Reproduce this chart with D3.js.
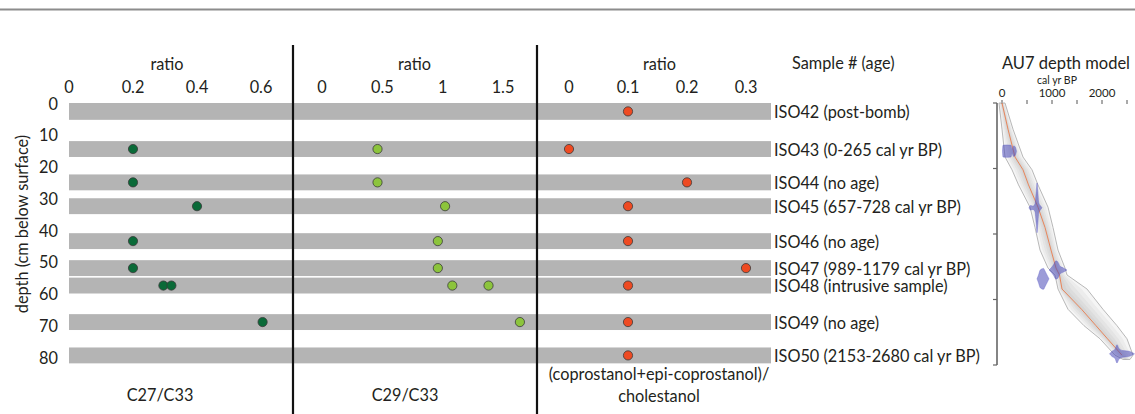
<!DOCTYPE html>
<html><head><meta charset="utf-8">
<script src="https://cdn.jsdelivr.net/npm/d3@7"></script>
<style>
body{margin:0;background:#fff;}
svg{display:block;font-family:"Lato","Open Sans",sans-serif;}
</style></head>
<body><svg id="c" width="1135" height="414"></svg>
<script>
// ---------- DATA ----------
const sampleNames = ["ISO42 (post-bomb)","ISO43 (0-265 cal yr BP)","ISO44 (no age)","ISO45 (657-728 cal yr BP)","ISO46 (no age)","ISO47 (989-1179 cal yr BP)","ISO48 (intrusive sample)","ISO49 (no age)","ISO50 (2153-2680 cal yr BP)"];
const sampleTop = [0, 12, 22.5, 30, 41, 49.5, 55, 66.5, 77];
const sampleBottom = [5.3, 17, 27.5, 35, 46, 54.5, 60, 71.5, 82];
// ratios per sample (empty = no value); ISO48 has two values
const c27c33 = [[], [0.2], [0.2], [0.4], [0.2], [0.2], [0.295, 0.32], [0.605], []];
const c29c33 = [[], [0.46], [0.46], [1.02], [0.96], [0.96], [1.08, 1.38], [1.64], []];
const coproRatio = [[0.1], [0.0], [0.2], [0.1], [0.1], [0.3], [0.1], [0.1], [0.1]];
const ticks1 = [0, 0.2, 0.4, 0.6];
const ticks2 = [0, 0.5, 1, 1.5];
const ticks3 = [0, 0.1, 0.2, 0.3];
const depthTicks = [0, 10, 20, 30, 40, 50, 60, 70, 80];
// Age-depth model (AU7)
const modelDepth  = [0, 8, 16.5, 20.4, 25, 31.8, 38, 44.9, 50.4, 52.5, 56.8, 63, 68, 72, 77, 78.3];
const modelMedian = [0, 120, 260, 420, 530, 720, 860, 980, 1080, 1150, 1200, 1592, 1880, 2110, 2400, 2470];
const modelMin    = [-60, 0, 60, 200, 330, 560, 660, 760, 920, 1060, 1120, 1320, 1640, 1960, 2260, 2420];
const modelMax    = [60, 220, 420, 600, 720, 920, 1020, 1120, 1260, 1300, 1700, 2020, 2300, 2500, 2620, 2560];
const ageTicks = [0, 500, 1000, 1500, 2000, 2500];
const ageLabels = [0, 1000, 2000];
const modelDepthTicks = [0, 20, 40, 60, 80];
// calibrated date distributions: depth and [age, half-height (cm)] profiles
const dateDepth = [14.7, 32, 51, 53.7, 76.6];
const dateProfiles = [
  [[10,0],[20,1.8],[100,1.9],[180,1.8],[200,0.6],[230,1.6],[260,1.4],[290,0]],
  [[540,0],[570,0.7],[620,0.5],[660,1.2],[685,5],[700,7.6],[715,5.5],[735,1.5],[770,0.6],[800,0]],
  [[940,0],[980,0.6],[1030,1.6],[1080,2.8],[1120,2.4],[1160,1.2],[1220,0.7],[1300,0]],
  [[700,0],[730,1.2],[760,2.6],[790,3.0],[830,3.2],[860,2.4],[900,1.2],[940,0]],
  [[2150,0],[2200,0.8],[2260,1.4],[2300,2.8],[2340,1.6],[2420,1.0],[2500,0.9],[2580,0.6],[2650,0]]
];

// ---------- DRAW ----------
const svg = d3.select("#c");
const y = d3.scaleLinear().domain([0, 80]).range([103, 357]);
const x1 = d3.scaleLinear().domain([0, 0.6]).range([69, 261]);
const x2 = d3.scaleLinear().domain([0, 1.5]).range([322, 503]);
const x3 = d3.scaleLinear().domain([0, 0.3]).range([569, 746]);
const bandLeft = 69, bandRight = 771;
const FS = 16.3;
const TXT = "#231f20";

// top rule
svg.append("line").attr("x1",0).attr("x2",1135).attr("y1",9.5).attr("y2",9.5)
  .attr("stroke","#8c8c8c").attr("stroke-width",2);

// bands
svg.append("g").selectAll("rect").data(sampleNames).join("rect")
  .attr("x", bandLeft).attr("width", bandRight - bandLeft)
  .attr("y", (d,i)=>y(sampleTop[i])).attr("height",(d,i)=>y(sampleBottom[i])-y(sampleTop[i]))
  .attr("fill","#b4b4b4");

// separators
[293, 537].forEach(px => svg.append("line").attr("x1",px).attr("x2",px).attr("y1",45).attr("y2",414)
  .attr("stroke","#111").attr("stroke-width",2.2));

// depth axis labels
svg.append("g").selectAll("text").data(depthTicks).join("text")
  .attr("x",58).attr("y",d=>y(d)).attr("text-anchor","end").attr("dominant-baseline","central")
  .attr("font-size",FS).attr("fill",TXT).text(d=>d);
svg.append("text").attr("transform","translate(21,224) rotate(-90)").attr("text-anchor","middle")
  .attr("dominant-baseline","central").attr("font-size",FS).attr("fill",TXT).text("depth (cm below surface)");

function panel(x, ticks, fmt, vals, color, bottomLines, bottomX) {
  const g = svg.append("g");
  g.selectAll("text.t").data(ticks).join("text").attr("class","t")
    .attr("x",d=>x(d)).attr("y",86).attr("text-anchor","middle").attr("dominant-baseline","central")
    .attr("font-size",FS).attr("fill",TXT).text(fmt);
  g.append("text").attr("x",(x.range()[0]+x.range()[1])/2 + 2).attr("y",63).attr("text-anchor","middle")
    .attr("dominant-baseline","central").attr("font-size",FS).attr("fill",TXT).text("ratio");
  const pts = [];
  vals.forEach((arr,i)=>arr.forEach(v=>pts.push({v, d:(sampleTop[i]+sampleBottom[i])/2})));
  g.selectAll("circle").data(pts).join("circle")
    .attr("cx",d=>x(d.v)).attr("cy",d=>y(d.d)).attr("r",4.6)
    .attr("fill",color).attr("stroke","#3a3a3a").attr("stroke-width",0.8);
  bottomLines.forEach((t,k)=>g.append("text").attr("x",bottomX).attr("y",bottomLines.length>1?373+k*22:394)
    .attr("text-anchor","middle").attr("dominant-baseline","central").attr("font-size",FS).attr("fill",TXT).text(t));
}
panel(x1, ticks1, d=>d===0?"0":d3.format(".1f")(d), c27c33, "#0a6a38", ["C27/C33"], 160);
panel(x2, ticks2, d=>String(d), c29c33, "#8cc43c", ["C29/C33"], 405);
panel(x3, ticks3, d=>d===0?"0":d3.format(".1f")(d), coproRatio, "#ee4a22", ["(coprostanol+epi-coprostanol)/","cholestanol"], 659);

// sample labels
svg.append("text").attr("x",792).attr("y",62).attr("dominant-baseline","central").attr("font-size",FS)
  .attr("fill",TXT).text("Sample # (age)");
svg.append("g").selectAll("text").data(sampleNames).join("text")
  .attr("x",774).attr("y",(d,i)=>y((sampleTop[i]+sampleBottom[i])/2)).attr("dominant-baseline","central")
  .attr("font-size",FS).attr("fill",TXT).text(d=>d);

// ---------- AGE MODEL ----------
const ax = d3.scaleLinear().domain([0,2500]).range([1002,1127]);
const ay = d3.scaleLinear().domain([0,80]).range([103,365]);
svg.append("text").attr("x",1066).attr("y",63).attr("text-anchor","middle").attr("dominant-baseline","central")
  .attr("font-size",16.5).attr("fill",TXT).text("AU7 depth model");
svg.append("text").attr("x",1057).attr("y",80).attr("text-anchor","middle").attr("dominant-baseline","central")
  .attr("font-size",10.5).attr("fill",TXT).text("cal yr BP");
svg.append("g").selectAll("text").data(ageLabels).join("text")
  .attr("x",d=>ax(d)).attr("y",92).attr("text-anchor","middle").attr("dominant-baseline","central")
  .attr("font-size",11.5).attr("fill",TXT).text(d=>d);
svg.append("g").selectAll("line").data(ageTicks).join("line")
  .attr("x1",d=>ax(d)).attr("x2",d=>ax(d)).attr("y1",100).attr("y2",104).attr("stroke","#555").attr("stroke-width",1);
svg.append("line").attr("x1",997).attr("x2",997).attr("y1",ay(0)).attr("y2",ay(80)).attr("stroke","#666").attr("stroke-width",1.6);
svg.append("g").selectAll("line").data(modelDepthTicks).join("line")
  .attr("x1",993).attr("x2",997).attr("y1",d=>ay(d)).attr("y2",d=>ay(d)).attr("stroke","#666").attr("stroke-width",1.2);

const idx = d3.range(modelDepth.length);
// shaded envelope (nested layers for gradient look)
const layers = [1, 0.78, 0.56, 0.36, 0.18];
layers.forEach((f,li)=>{
  const area = d3.area().curve(d3.curveLinear)
    .y(i=>ay(modelDepth[i]))
    .x0(i=>ax(modelMedian[i] + f*(modelMin[i]-modelMedian[i])))
    .x1(i=>ax(modelMedian[i] + f*(modelMax[i]-modelMedian[i])));
  svg.append("path").attr("d",area(idx)).attr("fill","#9a9a9a").attr("fill-opacity",0.1)
    .attr("stroke",li===0?"#b0b0b0":"none").attr("stroke-width",0.9);
});
svg.append("path").attr("d",d3.line().x(i=>ax(modelMedian[i])).y(i=>ay(modelDepth[i]))(idx.slice(0,-1)))
  .attr("fill","none").attr("stroke","#e8855a").attr("stroke-width",1);
// date distributions
dateProfiles.forEach((p,k)=>{
  const a = d3.area().curve(d3.curveMonotoneX)
    .x(d=>ax(d[0])).y0(d=>ay(dateDepth[k]-d[1])).y1(d=>ay(dateDepth[k]+d[1]));
  svg.append("path").attr("d",a(p)).attr("fill","#4a4ab8").attr("fill-opacity",0.55)
    .attr("stroke","#5a5ac8").attr("stroke-opacity",0.6).attr("stroke-width",0.6);
});
</script></body></html>
